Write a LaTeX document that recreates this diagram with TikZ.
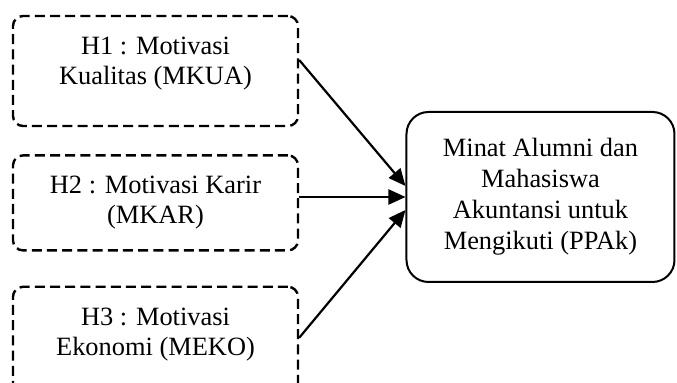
\documentclass[tikz,border=0pt]{standalone}
\usepackage{fontspec}
\setmainfont{Liberation Serif}
\usepackage{tikz}
\usetikzlibrary{arrows.meta, positioning, calc}

\begin{document}
\begin{tikzpicture}[x=0.5pt, y=-0.5pt,
      hypo/.style={draw, dashed, dash pattern=on 5pt off 2.6pt, line width=1.2pt,
                   rounded corners=5pt, align=center, minimum width=142.5pt,
                   font=\fontsize{13.2}{15}\selectfont},
      target/.style={draw, line width=1pt, rounded corners=11pt, align=center,
                     minimum width=134pt, minimum height=85pt,
                     font=\fontsize{13.2}{15.5}\selectfont},
      link/.style={-{Triangle[length=8.5pt, width=7.5pt]}, line width=1.1pt},
      node distance=13.5pt]
    \useasboundingbox (0,0) rectangle (677,383);
    \node[hypo, minimum height=55pt, text depth=10pt] (h1) at (155.5,71)
      {H1 : Motivasi\\Kualitas (MKUA)};
    \node[hypo, minimum height=47.5pt, below=of h1] (h2)
      {H2 : Motivasi Karir\\(MKAR)};
    \node[hypo, minimum height=55pt, text depth=10pt, below=17pt of h2] (h3)
      {H3 : Motivasi\\Ekonomi (MEKO)};
    \node[target] (ppak) at (540.5,197)
      {Minat Alumni dan\\Mahasiswa\\Akuntansi untuk\\Mengikuti (PPAk)};
    \draw[link] ($(h1.east)+(0,-11)$) -- ($(ppak.west)+(0,-11)$);
    \draw[link] (h2.east |- ppak.west) -- (ppak.west);
    \draw[link] ($(h3.east)+(0,-4)$) -- ($(ppak.west)+(0,13)$);
  \end{tikzpicture}
\end{document}
